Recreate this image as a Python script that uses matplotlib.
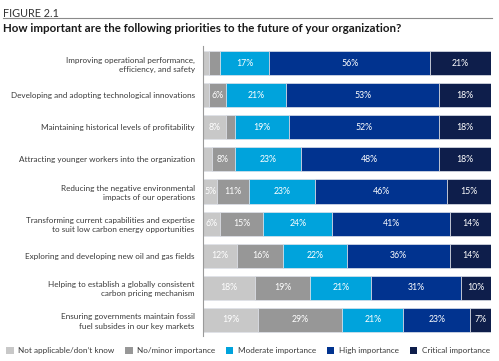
import matplotlib
matplotlib.use("Agg")
import matplotlib.pyplot as plt
import numpy as np

plt.rcParams['font.family'] = ['Lato', 'DejaVu Sans']

categories = [
    "Improving operational performance,\nefficiency, and safety",
    "Developing and adopting technological innovations",
    "Maintaining historical levels of profitability",
    "Attracting younger workers into the organization",
    "Reducing the negative environmental\nimpacts of our operations",
    "Transforming current capabilities and expertise\nto suit low carbon energy opportunities",
    "Exploring and developing new oil and gas fields",
    "Helping to establish a globally consistent\ncarbon pricing mechanism",
    "Ensuring governments maintain fossil\nfuel subsides in our key markets",
]
series_names = ["Not applicable/don\u2019t know", "No/minor importance",
                "Moderate importance", "High importance", "Critical importance"]
not_applicable = [2, 2, 8, 3, 5, 6, 12, 18, 19]
no_minor = [4, 6, 3, 8, 11, 15, 16, 19, 29]
moderate = [17, 21, 19, 23, 23, 24, 22, 21, 21]
high = [56, 53, 52, 48, 46, 41, 36, 31, 23]
critical = [21, 18, 18, 18, 15, 14, 14, 10, 7]

colors = ["#c8c8c8", "#979797", "#00a3dc", "#01338f", "#0e1e4b"]

fig = plt.figure(figsize=(4.99, 3.61), dpi=100)
ax = fig.add_axes([0.4068, 0.0693, 0.983 - 0.4068, 0.8726 - 0.0693])

data = np.array([not_applicable, no_minor, moderate, high, critical], dtype=float)
totals = data.sum(axis=0)
norm = data / totals * 100
y = np.arange(len(categories))
left = np.zeros(len(categories))
for i, (name, vals) in enumerate(zip(series_names, norm)):
    ax.barh(y, vals, left=left, height=0.75, color=colors[i], label=name,
            edgecolor="#dfe2ea", linewidth=0.5)
    for j, v in enumerate(vals):
        raw = data[i, j]
        if raw >= 5:
            ax.text(left[j] + v / 2, y[j], f"{int(raw)}%", ha="center", va="center",
                    color="white", fontsize=6.3)
    left += vals

ax.set_ylim(8.5, -0.53)
ax.set_xlim(0, 100)
ax.set_yticks(y)
ax.set_yticklabels(categories, fontsize=5.85, color="#3a3a3a", linespacing=1.35)
ax.tick_params(axis="y", length=0, pad=6)
ax.set_xticks([])
for s in ["top", "right", "bottom"]:
    ax.spines[s].set_visible(False)
ax.spines["left"].set_color("#9a9a9a")
ax.spines["left"].set_linewidth(0.8)

fig.text(0.006, 0.978, "FIGURE 2.1", fontsize=7.8, color="#333333", va="top")
fig.add_artist(plt.Line2D([0.006, 0.986], [0.95, 0.95], color="#8a8a8a", lw=0.8))
fig.text(0.006, 0.935, "How important are the following priorities to the future of your organization?",
         fontsize=8.3, fontweight="bold", color="#1a1a1a", va="top")

handles, labels = ax.get_legend_handles_labels()
leg = fig.legend(handles, labels, loc="center", bbox_to_anchor=(0.497, 0.028), ncol=5,
                 frameon=False, fontsize=5.85, handlelength=0.9, handleheight=0.9,
                 handletextpad=0.6, columnspacing=1.3, labelcolor="#3a3a3a",
                 borderaxespad=0, borderpad=0)
for h in leg.legend_handles:
    h.set_edgecolor("none")

fig.savefig("out.png", dpi=100)
